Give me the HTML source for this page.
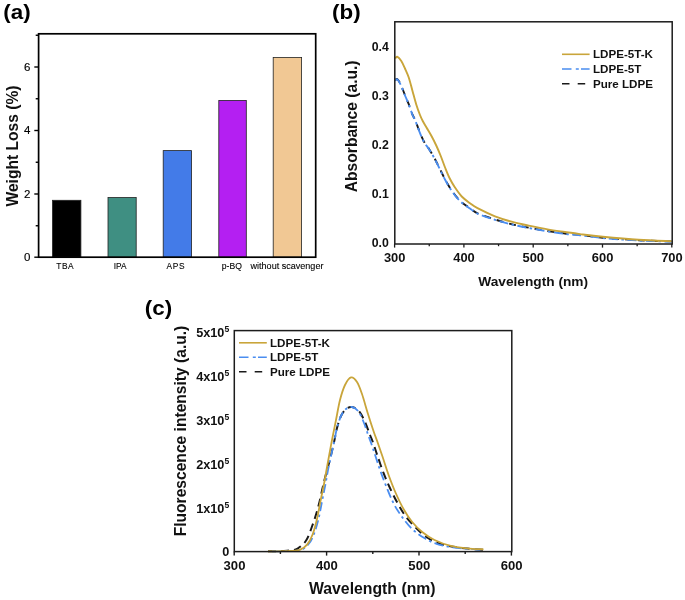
<!DOCTYPE html>
<html><head><meta charset="utf-8"><title>Figure</title>
<style>html,body{margin:0;padding:0;background:#fff;}body{width:685px;height:600px;overflow:hidden;}svg{display:block;font-family:"Liberation Sans", sans-serif;filter:blur(0.35px);}</style></head><body>
<svg width="685" height="600" viewBox="0 0 685 600">
<rect x="0" y="0" width="685" height="600" fill="#ffffff"/>
<rect x="52.5" y="200.3" width="28.4" height="56.9" fill="#000000" stroke="#222" stroke-width="0.8"/>
<rect x="108" y="197.5" width="28.2" height="59.7" fill="#3f8f82" stroke="#222" stroke-width="0.8"/>
<rect x="163.2" y="150.6" width="28.4" height="106.6" fill="#437be8" stroke="#222" stroke-width="0.8"/>
<rect x="218.8" y="100.4" width="27.5" height="156.8" fill="#b41ff2" stroke="#222" stroke-width="0.8"/>
<rect x="273.2" y="57.4" width="28.4" height="199.8" fill="#f1c894" stroke="#222" stroke-width="0.8"/>
<rect x="38.6" y="33.8" width="277.1" height="223.4" fill="none" stroke="#000" stroke-width="1.7"/>
<line x1="34.3" y1="257.2" x2="38.6" y2="257.2" stroke="#000" stroke-width="1.4"/>
<text x="30.4" y="261" font-size="11.5" font-weight="normal" text-anchor="end" fill="#000" stroke="#000" stroke-width="0.15">0</text>
<line x1="35.7" y1="225.75" x2="38.6" y2="225.75" stroke="#000" stroke-width="1.4"/>
<line x1="34.3" y1="194" x2="38.6" y2="194" stroke="#000" stroke-width="1.4"/>
<text x="30.4" y="197.5" font-size="11.5" font-weight="normal" text-anchor="end" fill="#000" stroke="#000" stroke-width="0.15">2</text>
<line x1="35.7" y1="162.25" x2="38.6" y2="162.25" stroke="#000" stroke-width="1.4"/>
<line x1="34.3" y1="130.5" x2="38.6" y2="130.5" stroke="#000" stroke-width="1.4"/>
<text x="30.4" y="134" font-size="11.5" font-weight="normal" text-anchor="end" fill="#000" stroke="#000" stroke-width="0.15">4</text>
<line x1="35.7" y1="98.75" x2="38.6" y2="98.75" stroke="#000" stroke-width="1.4"/>
<line x1="34.3" y1="67" x2="38.6" y2="67" stroke="#000" stroke-width="1.4"/>
<text x="30.4" y="70.5" font-size="11.5" font-weight="normal" text-anchor="end" fill="#000" stroke="#000" stroke-width="0.15">6</text>
<line x1="35.7" y1="35.25" x2="38.6" y2="35.25" stroke="#000" stroke-width="1.4"/>
<text x="65.2" y="269" font-size="8.4" font-weight="normal" text-anchor="middle" fill="#000" stroke="#000" stroke-width="0.1" letter-spacing="0.5">TBA</text>
<text x="120.2" y="269" font-size="8.3" font-weight="normal" text-anchor="middle" fill="#000" stroke="#000" stroke-width="0.1" letter-spacing="0">IPA</text>
<text x="175.8" y="269" font-size="8.4" font-weight="normal" text-anchor="middle" fill="#000" stroke="#000" stroke-width="0.1" letter-spacing="0.6">APS</text>
<text x="231.8" y="269" font-size="8.6" font-weight="normal" text-anchor="middle" fill="#000" stroke="#000" stroke-width="0.1" letter-spacing="0">p-BQ</text>
<text x="287" y="269" font-size="9.05" font-weight="normal" text-anchor="middle" fill="#000" stroke="#000" stroke-width="0.1" letter-spacing="0">without scavenger</text>
<text x="18" y="146" font-size="15.6" font-weight="bold" text-anchor="middle" fill="#111" transform="rotate(-90 18 146)">Weight Loss (%)</text>
<text transform="translate(3.3 19.2) scale(1.12 1)" x="0" y="0" font-size="20" font-weight="bold" fill="#000">(a)</text>
<clipPath id="cb"><rect x="394.8" y="21.8" width="277.4" height="222.2"/></clipPath>
<g clip-path="url(#cb)" fill="none" stroke-linejoin="round">
<path d="M395.2,80.2 C395.53,80 396.32,78.37 397.2,79 C398.08,79.63 399.2,81.3 400.5,84 C401.8,86.7 403.62,91.83 405,95.2 C406.38,98.57 407.5,100.95 408.75,104.2 C410,107.45 411.42,112.03 412.5,114.7 C413.58,117.37 414.17,117.62 415.25,120.2 C416.33,122.78 417.62,126.78 419,130.2 C420.38,133.62 421.75,137.45 423.5,140.7 C425.25,143.95 427.62,146.7 429.5,149.7 C431.38,152.7 433,155.45 434.75,158.7 C436.5,161.95 438.25,165.7 440,169.2 C441.75,172.7 443.5,176.45 445.25,179.7 C447,182.95 448.62,185.82 450.5,188.7 C452.38,191.57 454.5,194.57 456.5,196.95 C458.5,199.32 460.25,201.07 462.5,202.95 C464.75,204.82 467.5,206.47 470,208.2 C472.5,209.92 473.33,211.42 477.5,213.3 C481.67,215.18 489.17,217.65 495,219.5 C500.83,221.35 506.67,223 512.5,224.4 C518.33,225.8 524.15,226.8 530,227.9 C535.85,229 541.77,230.07 547.6,231 C553.43,231.93 559.6,232.85 565,233.5 C570.4,234.15 573.72,234.2 580,234.9 C586.28,235.6 592.93,236.82 602.7,237.7 C612.47,238.58 627.08,239.58 638.6,240.2 C650.12,240.82 666.27,241.2 671.8,241.4" stroke="#1a1a1a" stroke-width="1.9" stroke-dasharray="7,6"/>
<path d="M395.2,80.5 C395.53,80.3 396.32,78.67 397.2,79.3 C398.08,79.93 399.2,81.6 400.5,84.3 C401.8,87 403.62,92.13 405,95.5 C406.38,98.87 407.5,101.25 408.75,104.5 C410,107.75 411.42,112.33 412.5,115 C413.58,117.67 414.17,117.92 415.25,120.5 C416.33,123.08 417.62,127.08 419,130.5 C420.38,133.92 421.75,137.75 423.5,141 C425.25,144.25 427.62,147 429.5,150 C431.38,153 433,155.75 434.75,159 C436.5,162.25 438.25,166 440,169.5 C441.75,173 443.5,176.75 445.25,180 C447,183.25 448.62,186.12 450.5,189 C452.38,191.88 454.5,194.88 456.5,197.25 C458.5,199.62 460.25,201.38 462.5,203.25 C464.75,205.12 467.5,206.78 470,208.5 C472.5,210.22 473.33,211.72 477.5,213.6 C481.67,215.48 489.17,217.95 495,219.8 C500.83,221.65 506.67,223.3 512.5,224.7 C518.33,226.1 524.15,227.1 530,228.2 C535.85,229.3 541.77,230.37 547.6,231.3 C553.43,232.23 559.6,233.15 565,233.8 C570.4,234.45 573.72,234.5 580,235.2 C586.28,235.9 592.93,237.12 602.7,238 C612.47,238.88 627.08,239.88 638.6,240.5 C650.12,241.12 666.27,241.5 671.8,241.7" stroke="#4a8df0" stroke-width="1.9" stroke-dasharray="9,3.5,2.5,3.5"/>
<path d="M395.2,58.3 C395.58,58.05 396.48,56.35 397.5,56.8 C398.52,57.25 400.05,59.05 401.3,61 C402.55,62.95 403.76,65.75 405,68.5 C406.24,71.25 407.5,73.75 408.75,77.5 C410,81.25 411.25,86.5 412.5,91 C413.75,95.5 415,100.5 416.25,104.5 C417.5,108.5 418.92,112.25 420,115 C421.08,117.75 421.67,118.92 422.75,121 C423.83,123.08 425,124.92 426.5,127.5 C428,130.08 430.12,133.5 431.75,136.5 C433.38,139.5 434.75,142.25 436.25,145.5 C437.75,148.75 439.25,152.25 440.75,156 C442.25,159.75 443.75,164.25 445.25,168 C446.75,171.75 448.12,175.25 449.75,178.5 C451.38,181.75 453,184.5 455,187.5 C457,190.5 459.25,193.88 461.75,196.5 C464.25,199.12 467.38,201.3 470,203.25 C472.62,205.2 473.33,206.02 477.5,208.2 C481.67,210.38 489.17,214.02 495,216.3 C500.83,218.58 506.67,220.3 512.5,221.9 C518.33,223.5 524.15,224.65 530,225.9 C535.85,227.15 541.77,228.38 547.6,229.4 C553.43,230.42 559.6,231.22 565,232 C570.4,232.78 573.72,233.32 580,234.1 C586.28,234.88 592.93,235.77 602.7,236.7 C612.47,237.63 627.08,238.95 638.6,239.7 C650.12,240.45 666.27,240.95 671.8,241.2" stroke="#c9a53a" stroke-width="1.9"/>
</g>
<rect x="394.8" y="21.8" width="277.4" height="222.2" fill="none" stroke="#1c1c1c" stroke-width="1.5"/>
<line x1="394.6" y1="244" x2="394.6" y2="247.6" stroke="#1c1c1c" stroke-width="1.3"/>
<text x="394.7" y="262.2" font-size="12.9" font-weight="bold" text-anchor="middle" fill="#111">300</text>
<line x1="429.25" y1="244" x2="429.25" y2="246.2" stroke="#1c1c1c" stroke-width="1.3"/>
<line x1="463.9" y1="244" x2="463.9" y2="247.6" stroke="#1c1c1c" stroke-width="1.3"/>
<text x="464" y="262.2" font-size="12.9" font-weight="bold" text-anchor="middle" fill="#111">400</text>
<line x1="498.55" y1="244" x2="498.55" y2="246.2" stroke="#1c1c1c" stroke-width="1.3"/>
<line x1="533.2" y1="244" x2="533.2" y2="247.6" stroke="#1c1c1c" stroke-width="1.3"/>
<text x="533.3" y="262.2" font-size="12.9" font-weight="bold" text-anchor="middle" fill="#111">500</text>
<line x1="567.85" y1="244" x2="567.85" y2="246.2" stroke="#1c1c1c" stroke-width="1.3"/>
<line x1="602.5" y1="244" x2="602.5" y2="247.6" stroke="#1c1c1c" stroke-width="1.3"/>
<text x="602.6" y="262.2" font-size="12.9" font-weight="bold" text-anchor="middle" fill="#111">600</text>
<line x1="637.15" y1="244" x2="637.15" y2="246.2" stroke="#1c1c1c" stroke-width="1.3"/>
<line x1="671.8" y1="244" x2="671.8" y2="247.6" stroke="#1c1c1c" stroke-width="1.3"/>
<text x="671.9" y="262.2" font-size="12.9" font-weight="bold" text-anchor="middle" fill="#111">700</text>
<text x="388.9" y="247.4" font-size="12.3" font-weight="bold" text-anchor="end" fill="#111">0.0</text>
<text x="388.9" y="198.2" font-size="12.3" font-weight="bold" text-anchor="end" fill="#111">0.1</text>
<text x="388.9" y="149" font-size="12.3" font-weight="bold" text-anchor="end" fill="#111">0.2</text>
<text x="388.9" y="99.8" font-size="12.3" font-weight="bold" text-anchor="end" fill="#111">0.3</text>
<text x="388.9" y="50.6" font-size="12.3" font-weight="bold" text-anchor="end" fill="#111">0.4</text>
<text x="357.1" y="126.3" font-size="15.6" font-weight="bold" text-anchor="middle" fill="#111" transform="rotate(-90 357.1 126.3)">Absorbance (a.u.)</text>
<text x="533.2" y="285.8" font-size="13.7" font-weight="bold" text-anchor="middle" fill="#111">Wavelength (nm)</text>
<line x1="562" y1="54.3" x2="589.6" y2="54.3" stroke="#c9a53a" stroke-width="1.6"/>
<line x1="562" y1="69" x2="589.6" y2="69" stroke="#4a8df0" stroke-width="1.6" stroke-dasharray="9.5,4.3,3,2.2"/>
<line x1="562" y1="83.7" x2="589.6" y2="83.7" stroke="#1a1a1a" stroke-width="1.6" stroke-dasharray="7.5,8.2"/>
<text x="593" y="58.48" font-size="11.6" font-weight="bold" text-anchor="start" fill="#111">LDPE-5T-K</text>
<text x="593" y="73.18" font-size="11.6" font-weight="bold" text-anchor="start" fill="#111">LDPE-5T</text>
<text x="593" y="87.88" font-size="11.6" font-weight="bold" text-anchor="start" fill="#111">Pure LDPE</text>
<text transform="translate(332 19.2) scale(1.12 1)" x="0" y="0" font-size="20" font-weight="bold" fill="#000">(b)</text>
<g fill="none" stroke-linejoin="round">
<path d="M268,551.3 C270.67,551.23 280.17,551.07 284,550.9 C287.83,550.73 288.73,550.68 291,550.3 C293.27,549.92 295.03,550.32 297.6,548.6 C300.17,546.88 303.77,544.35 306.4,540 C309.03,535.65 311.35,528.33 313.4,522.5 C315.45,516.67 317.15,510.83 318.7,505 C320.25,499.17 321.57,492.33 322.7,487.5 C323.83,482.67 324.53,479.75 325.5,476 C326.47,472.25 327.5,468.83 328.5,465 C329.5,461.17 330.5,457.17 331.5,453 C332.5,448.83 333.58,444.17 334.5,440 C335.42,435.83 335.92,432 337,428 C338.08,424 339.5,419.17 341,416 C342.5,412.83 344.17,410.5 346,409 C347.83,407.5 349.83,406.67 352,407 C354.17,407.33 356.83,408.5 359,411 C361.17,413.5 363.17,418 365,422 C366.83,426 368.63,431.5 370,435 C371.37,438.5 371.98,439.62 373.2,443 C374.42,446.38 375.6,450.35 377.3,455.3 C379,460.25 381.37,467.42 383.4,472.7 C385.43,477.98 387.12,481.88 389.5,487 C391.88,492.12 394.97,498.47 397.7,503.4 C400.43,508.33 402.85,512.52 405.9,516.6 C408.95,520.68 412.6,524.5 416,527.9 C419.4,531.3 422.53,534.45 426.3,537 C430.07,539.55 434.17,541.58 438.6,543.2 C443.03,544.82 448.13,545.8 452.9,546.7 C457.67,547.6 462.1,548.1 467.2,548.6 C472.3,549.1 480.78,549.52 483.5,549.7" stroke="#1a1a1a" stroke-width="2.0" stroke-dasharray="8,5"/>
<path d="M272,551.4 C274.33,551.37 282.5,551.27 286,551.2 C289.5,551.13 290.33,551.28 293,551 C295.67,550.72 299.33,550.75 302,549.5 C304.67,548.25 307,546.08 309,543.5 C311,540.92 312.42,538.08 314,534 C315.58,529.92 317.17,524.42 318.5,519 C319.83,513.58 320.83,507.33 322,501.5 C323.17,495.67 324.5,489.25 325.5,484 C326.5,478.75 327.08,474.67 328,470 C328.92,465.33 329.92,461 331,456 C332.08,451 333.5,444.67 334.5,440 C335.5,435.33 335.92,432 337,428 C338.08,424 339.5,419.17 341,416 C342.5,412.83 344.17,410.5 346,409 C347.83,407.5 349.92,406.58 352,407 C354.08,407.42 356.5,408.83 358.5,411.5 C360.5,414.17 362.42,419.17 364,423 C365.58,426.83 366.82,431.17 368,434.5 C369.18,437.83 369.9,439.53 371.1,443 C372.3,446.47 373.67,450.68 375.2,455.3 C376.73,459.92 378.42,465.42 380.3,470.7 C382.18,475.98 384.28,481.55 386.5,487 C388.72,492.45 391.05,498.47 393.6,503.4 C396.15,508.33 398.73,512.35 401.8,516.6 C404.87,520.85 408.25,525.32 412,528.9 C415.75,532.48 420.22,535.62 424.3,538.1 C428.38,540.58 431.73,542.27 436.5,543.8 C441.27,545.33 446.42,546.38 452.9,547.3 C459.38,548.22 470.3,548.88 475.4,549.3 C480.5,549.72 482.15,549.72 483.5,549.8" stroke="#4a8df0" stroke-width="1.8" stroke-dasharray="9,3.5,2.5,3.5"/>
<path d="M268,551.4 C270.33,551.37 278.08,551.27 282,551.2 C285.92,551.13 288.45,551.25 291.5,551 C294.55,550.75 297.67,550.8 300.3,549.7 C302.93,548.6 305.27,546.88 307.3,544.4 C309.33,541.92 310.88,539.03 312.5,534.8 C314.12,530.57 315.68,524.55 317,519 C318.32,513.45 319.23,507.33 320.4,501.5 C321.57,495.67 322.98,489.25 324,484 C325.02,478.75 325.75,474.17 326.5,470 C327.25,465.83 327.58,464 328.5,459 C329.42,454 330.75,446.5 332,440 C333.25,433.5 334.67,426.67 336,420 C337.33,413.33 338.5,405.83 340,400 C341.5,394.17 343.17,388.77 345,385 C346.83,381.23 349,377.9 351,377.4 C353,376.9 355.17,379.23 357,382 C358.83,384.77 360.17,388.67 362,394 C363.83,399.33 366,407.58 368,414 C370,420.42 372.45,427.92 374,432.5 C375.55,437.08 375.9,437.53 377.3,441.5 C378.7,445.47 380.53,450.77 382.4,456.3 C384.27,461.83 386.28,468.58 388.5,474.7 C390.72,480.82 393.15,487.2 395.7,493 C398.25,498.8 401.08,504.72 403.8,509.5 C406.52,514.28 408.93,517.95 412,521.7 C415.07,525.45 418.45,528.95 422.2,532 C425.95,535.05 429.73,537.68 434.5,540 C439.27,542.32 445.35,544.52 450.8,545.9 C456.25,547.28 461.75,547.73 467.2,548.3 C472.65,548.87 480.78,549.13 483.5,549.3" stroke="#c9a53a" stroke-width="1.8"/>
</g>
<rect x="234.3" y="330.6" width="277.5" height="221" fill="none" stroke="#1c1c1c" stroke-width="1.5"/>
<line x1="234.2" y1="551.6" x2="234.2" y2="555.6" stroke="#1c1c1c" stroke-width="1.4"/>
<text x="234.5" y="570" font-size="13.1" font-weight="bold" text-anchor="middle" fill="#111">300</text>
<line x1="280.4" y1="551.6" x2="280.4" y2="554" stroke="#1c1c1c" stroke-width="1.4"/>
<line x1="326.6" y1="551.6" x2="326.6" y2="555.6" stroke="#1c1c1c" stroke-width="1.4"/>
<text x="326.9" y="570" font-size="13.1" font-weight="bold" text-anchor="middle" fill="#111">400</text>
<line x1="372.8" y1="551.6" x2="372.8" y2="554" stroke="#1c1c1c" stroke-width="1.4"/>
<line x1="419" y1="551.6" x2="419" y2="555.6" stroke="#1c1c1c" stroke-width="1.4"/>
<text x="419.3" y="570" font-size="13.1" font-weight="bold" text-anchor="middle" fill="#111">500</text>
<line x1="465.2" y1="551.6" x2="465.2" y2="554" stroke="#1c1c1c" stroke-width="1.4"/>
<line x1="511.4" y1="551.6" x2="511.4" y2="555.6" stroke="#1c1c1c" stroke-width="1.4"/>
<text x="511.7" y="570" font-size="13.1" font-weight="bold" text-anchor="middle" fill="#111">600</text>
<text x="229.2" y="556" font-size="12.7" font-weight="bold" text-anchor="end" fill="#111">0</text>
<text x="229.2" y="512.7" font-size="12.7" font-weight="bold" text-anchor="end" fill="#111">1x10<tspan font-size="8.6" dy="-4.8">5</tspan></text>
<text x="229.2" y="468.7" font-size="12.7" font-weight="bold" text-anchor="end" fill="#111">2x10<tspan font-size="8.6" dy="-4.8">5</tspan></text>
<text x="229.2" y="424.7" font-size="12.7" font-weight="bold" text-anchor="end" fill="#111">3x10<tspan font-size="8.6" dy="-4.8">5</tspan></text>
<text x="229.2" y="380.7" font-size="12.7" font-weight="bold" text-anchor="end" fill="#111">4x10<tspan font-size="8.6" dy="-4.8">5</tspan></text>
<text x="229.2" y="336.7" font-size="12.7" font-weight="bold" text-anchor="end" fill="#111">5x10<tspan font-size="8.6" dy="-4.8">5</tspan></text>
<text x="186.2" y="431" font-size="15.6" font-weight="bold" text-anchor="middle" fill="#111" transform="rotate(-90 186.2 431)">Fluorescence intensity (a.u.)</text>
<text x="372.3" y="593.6" font-size="15.8" font-weight="bold" text-anchor="middle" fill="#111">Wavelength (nm)</text>
<line x1="239" y1="342.8" x2="266.8" y2="342.8" stroke="#c9a53a" stroke-width="1.6"/>
<line x1="239" y1="357.3" x2="266.8" y2="357.3" stroke="#4a8df0" stroke-width="1.6" stroke-dasharray="9.5,4.3,3,2.2"/>
<line x1="239" y1="371.7" x2="266.8" y2="371.7" stroke="#1a1a1a" stroke-width="1.6" stroke-dasharray="7.5,8.2"/>
<text x="270" y="346.98" font-size="11.6" font-weight="bold" text-anchor="start" fill="#111">LDPE-5T-K</text>
<text x="270" y="361.48" font-size="11.6" font-weight="bold" text-anchor="start" fill="#111">LDPE-5T</text>
<text x="270" y="375.88" font-size="11.6" font-weight="bold" text-anchor="start" fill="#111">Pure LDPE</text>
<text transform="translate(144.8 315) scale(1.12 1)" x="0" y="0" font-size="20" font-weight="bold" fill="#000">(c)</text>
</svg></body></html>
